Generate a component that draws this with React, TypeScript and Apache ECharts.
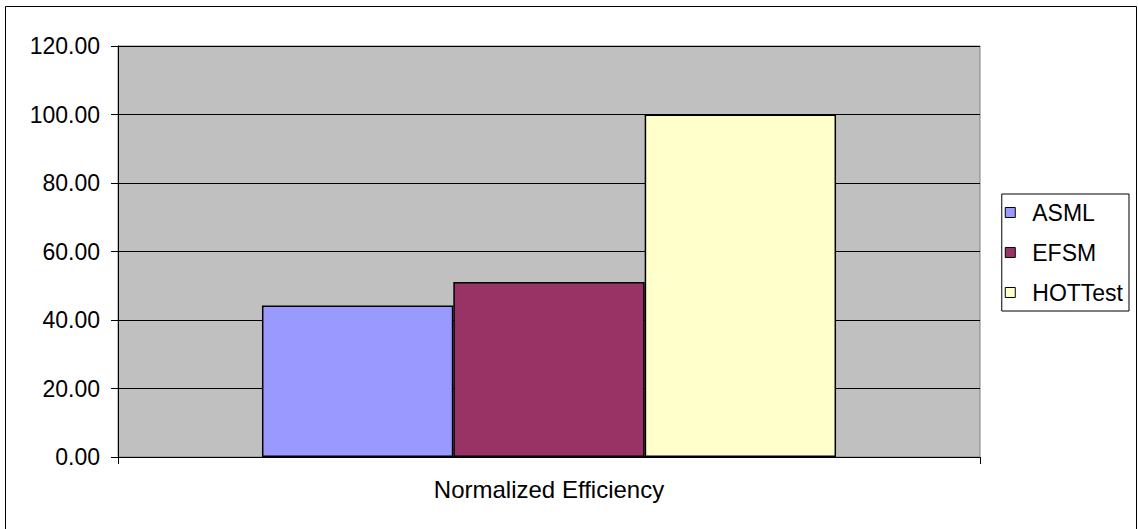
import React, { useEffect, useRef } from "react";
import * as echarts from "echarts";

const categories = ["Normalized Efficiency"];
const seriesNames = ["ASML", "EFSM", "HOTTest"];
const asmlValues = [44.2];
const efsmValues = [51.1];
const hottestValues = [100.0];
const seriesColors = ["#9999FF", "#993366", "#FFFFCC"];
const yMin = 0;
const yMax = 120;
const yInterval = 20;

export default function App() {
  const ref = useRef<HTMLDivElement>(null);
  useEffect(() => {
    if (!ref.current) return;
    const chart = echarts.init(ref.current, undefined, { renderer: "svg" });
    const font = "'Liberation Sans', Arial, sans-serif";
    const values = [asmlValues, efsmValues, hottestValues];
    chart.setOption({
      animation: false,
      backgroundColor: "#ffffff",
      textStyle: { fontFamily: font },
      graphic: [
        {
          type: "rect",
          shape: { x: 5.5, y: 6.5, width: 1131, height: 540 },
          style: { fill: "none", stroke: "#000", lineWidth: 1 },
          silent: true,
          z: 100,
        },
      ],
      grid: {
        left: 118,
        top: 46,
        right: 158,
        bottom: 72,
        show: true,
        backgroundColor: "#C0C0C0",
        borderColor: "#808080",
        borderWidth: 1,
      },
      legend: {
        orient: "vertical",
        right: 9,
        top: 194,
        padding: [7, 6, 7, 3],
        borderColor: "#000",
        borderWidth: 1,
        itemWidth: 10,
        itemHeight: 10,
        itemGap: 17,
        icon: "rect",
        itemStyle: { borderColor: "#000", borderWidth: 1 },
        textStyle: {
          fontSize: 23,
          lineHeight: 22,
          color: "#000",
          fontFamily: font,
          padding: [0, 0, 0, 12],
        },
        data: seriesNames,
      },
      xAxis: {
        type: "category",
        data: categories,
        axisLine: { lineStyle: { color: "#000", width: 1 } },
        axisTick: { show: true, length: 7, lineStyle: { color: "#000" } },
        axisLabel: { fontSize: 24, color: "#000", margin: 20, fontFamily: font },
      },
      yAxis: {
        type: "value",
        min: yMin,
        max: yMax,
        interval: yInterval,
        axisLine: { show: true, lineStyle: { color: "#000", width: 1 } },
        axisTick: { show: true, length: 7, lineStyle: { color: "#000" } },
        axisLabel: {
          fontSize: 23,
          color: "#000",
          margin: 18,
          fontFamily: font,
          formatter: (v: number) => v.toFixed(2),
        },
        splitLine: { show: true, lineStyle: { color: "#000", width: 1 } },
      },
      series: seriesNames.map((name, i) => ({
        name,
        type: "bar",
        data: values[i],
        barGap: "0%",
        barCategoryGap: "33.4%",
        itemStyle: { color: seriesColors[i], borderColor: "#000", borderWidth: 1.5 },
      })),
    });
    return () => chart.dispose();
  }, []);
  return (
    <div
      ref={ref}
      style={{ position: "absolute", left: 0, top: 0, width: 1138, height: 529 }}
    />
  );
}
